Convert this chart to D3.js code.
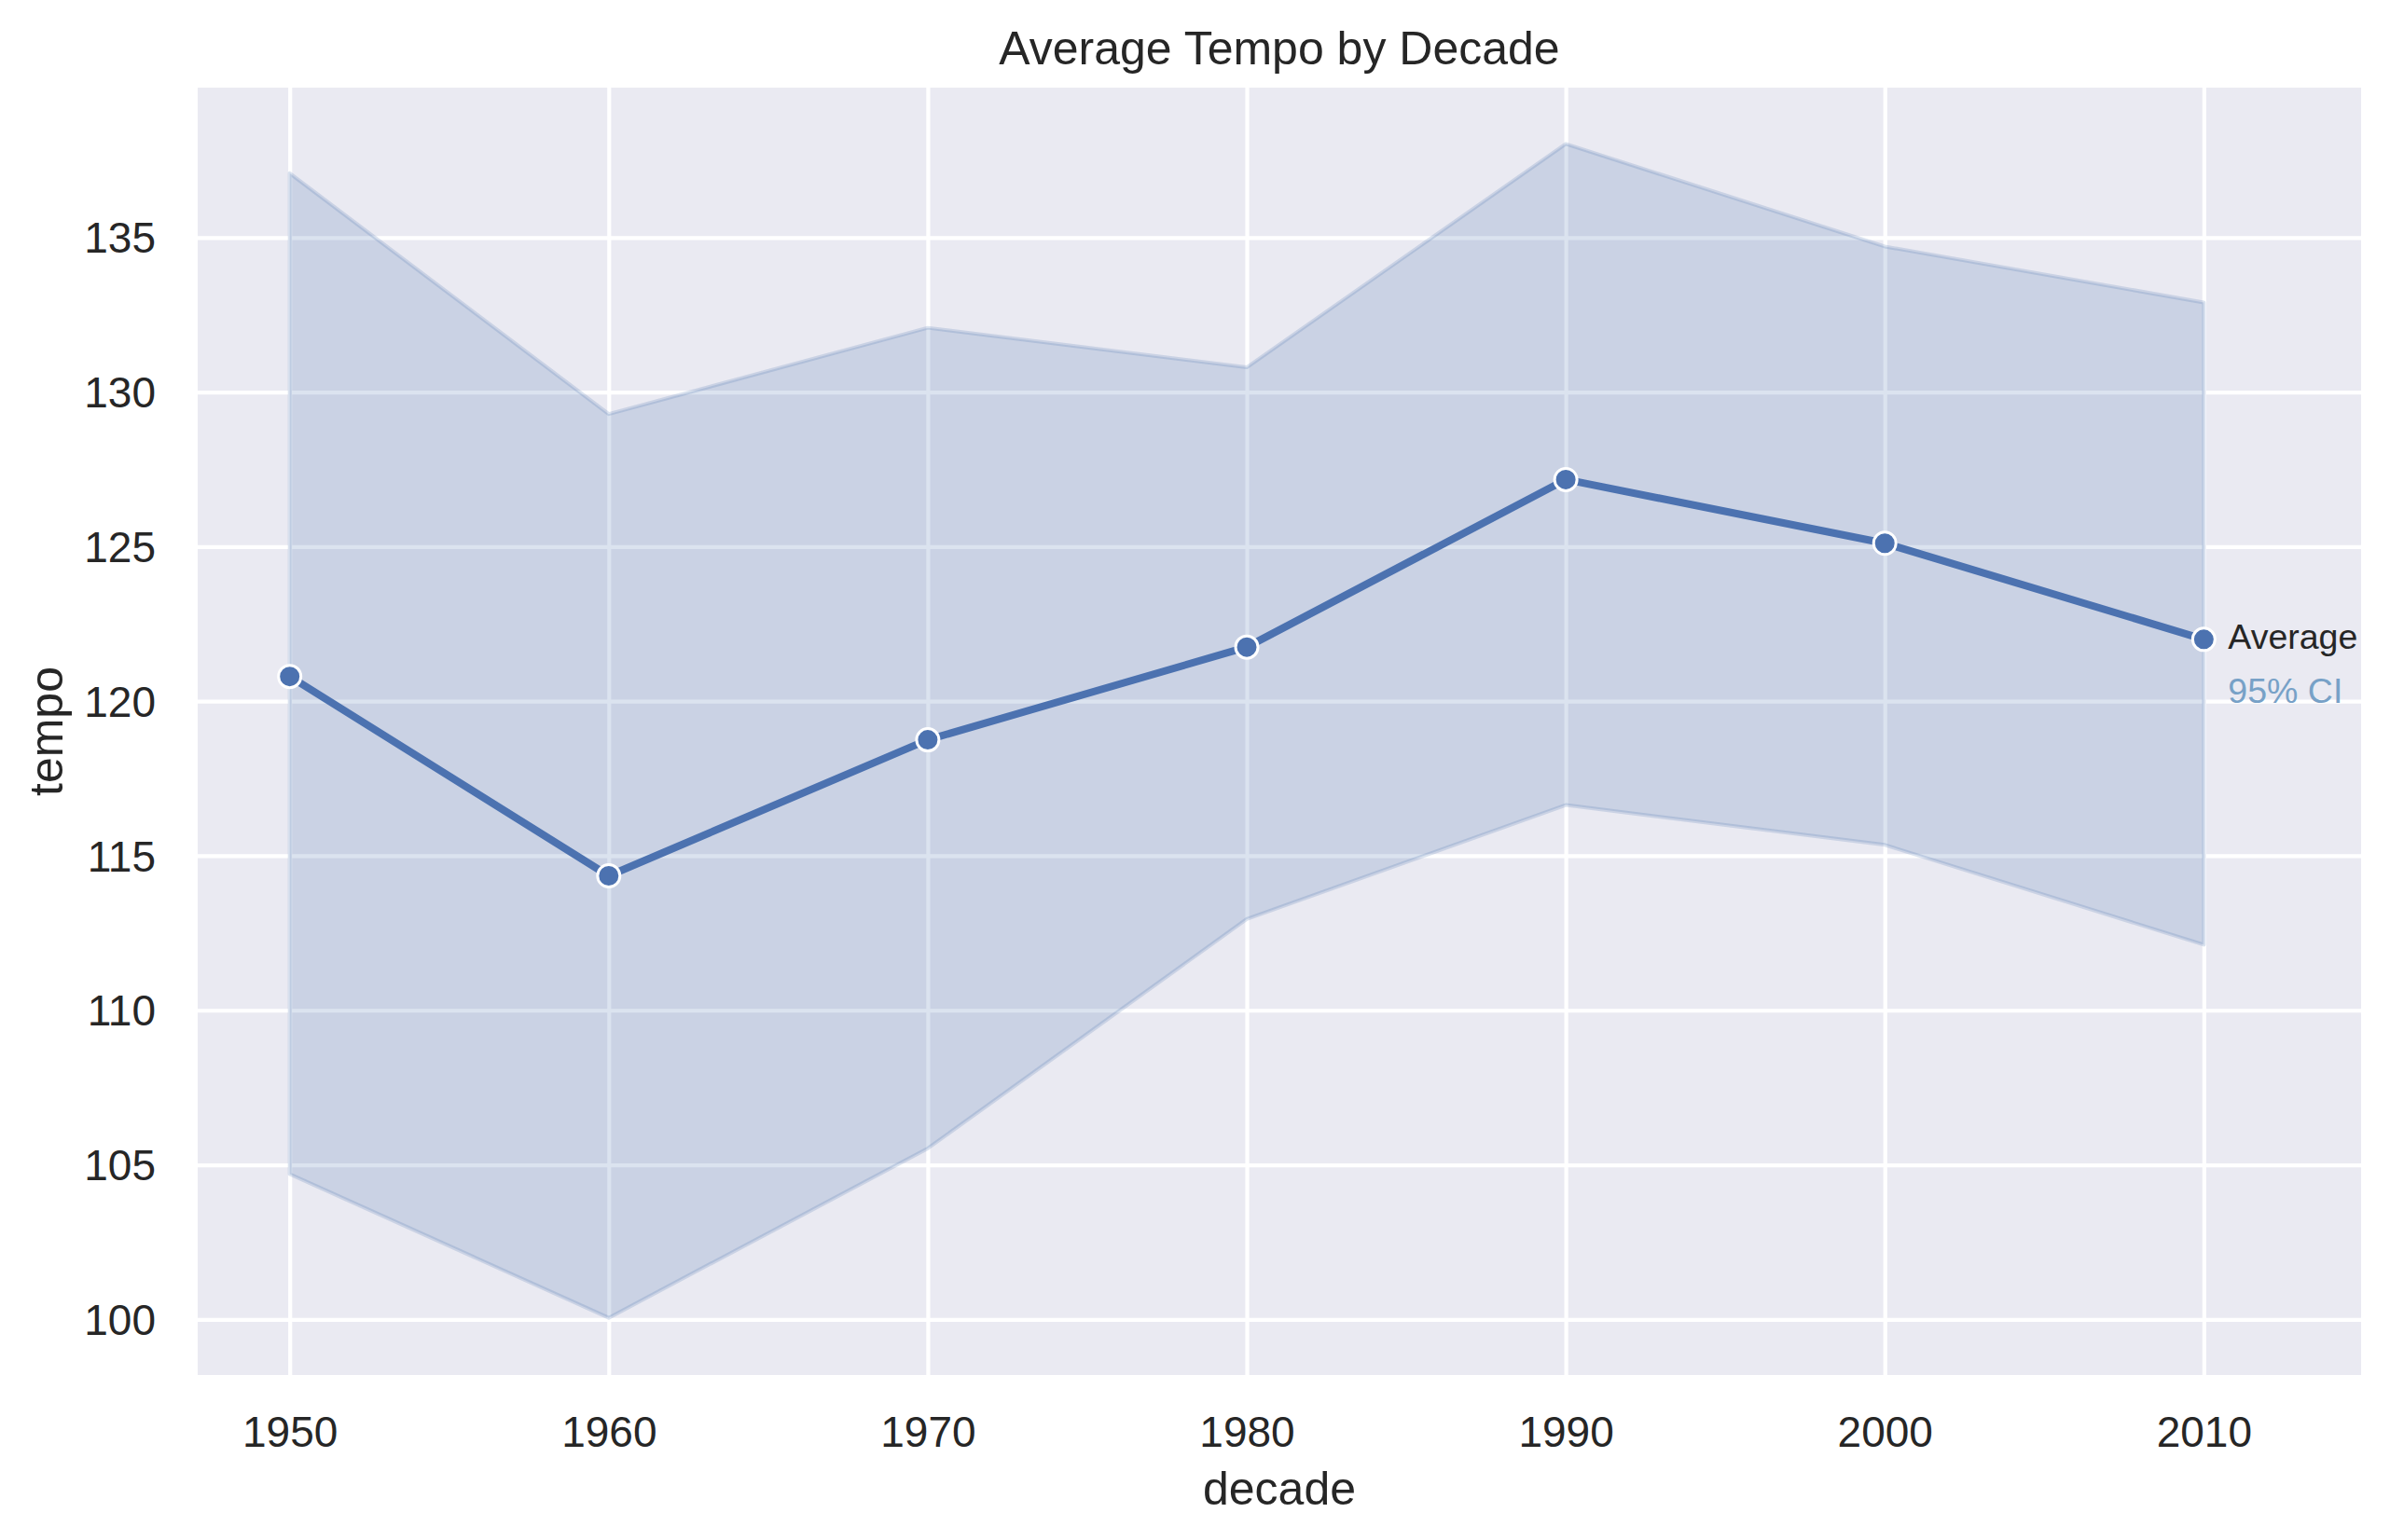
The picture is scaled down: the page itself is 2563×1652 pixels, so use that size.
<!DOCTYPE html>
<html>
<head>
<meta charset="utf-8">
<style>
body { margin: 0; background: #fff; }
svg text { font-family: "Liberation Sans", Arial, sans-serif; fill: #262626; }
.grid line { stroke: #fff; stroke-width: 4.2px; }
.grid .domain, .axis .domain, .axis line { display: none; }
.axis text { font-size: 46px; }
</style>
</head>
<body>
<svg id="chart" width="2563" height="1652"></svg>
<script src="https://d3js.org/d3.v7.min.js"></script>
<script>
// values
var decades = [1950, 1960, 1970, 1980, 1990, 2000, 2010];
var avgTempo = [120.8, 114.35, 118.75, 121.75, 127.17, 125.11, 122.0];
var ciLow = [104.7, 100.05, 105.53, 112.95, 116.64, 115.35, 112.12];
var ciHigh = [137.08, 129.29, 132.08, 130.80, 138.03, 134.71, 132.90];
var yTicks = [100, 105, 110, 115, 120, 125, 130, 135];

var svg = d3.select("#chart");
var margin = {top: 94, right: 31, bottom: 177, left: 212};
var width = +svg.attr("width") - margin.left - margin.right,
    height = +svg.attr("height") - margin.top - margin.bottom;
var blue = "#4c72b0";

var x = d3.scaleLinear().domain([1947.115, 2014.93]).range([0, width]);
var y = d3.scaleLinear().domain([98.2, 139.85]).range([height, 0]);

var g = svg.append("g").attr("transform", "translate(" + margin.left + "," + margin.top + ")");

g.append("rect")
    .attr("width", width)
    .attr("height", height)
    .attr("fill", "#eaeaf2");

// grid
g.append("g")
    .attr("class", "grid")
    .attr("transform", "translate(0," + height + ")")
    .call(d3.axisBottom(x).tickValues(decades).tickSize(-height).tickFormat(""));
g.append("g")
    .attr("class", "grid")
    .call(d3.axisLeft(y).tickValues(yTicks).tickSize(-width).tickFormat(""));

var data = decades.map(function(d, i) {
  return {decade: d, avg: avgTempo[i], lo: ciLow[i], hi: ciHigh[i]};
});

// confidence band
var band = d3.area()
    .x(function(d) { return x(d.decade); })
    .y0(function(d) { return y(d.lo); })
    .y1(function(d) { return y(d.hi); });
g.append("path")
    .datum(data)
    .attr("d", function(d) { return band(d) + "Z"; })
    .attr("fill", blue)
    .attr("fill-opacity", 0.2)
    .attr("stroke", blue)
    .attr("stroke-opacity", 0.2)
    .attr("stroke-width", 4)
    .attr("stroke-linejoin", "round");

// mean line
var line = d3.line()
    .x(function(d) { return x(d.decade); })
    .y(function(d) { return y(d.avg); });
g.append("path")
    .datum(data)
    .attr("d", line)
    .attr("fill", "none")
    .attr("stroke", blue)
    .attr("stroke-width", 8)
    .attr("stroke-linejoin", "round");

g.selectAll(".dot")
    .data(data)
  .enter().append("circle")
    .attr("class", "dot")
    .attr("cx", function(d) { return x(d.decade); })
    .attr("cy", function(d) { return y(d.avg); })
    .attr("r", 12)
    .attr("fill", blue)
    .attr("stroke", "#fff")
    .attr("stroke-width", 3);

// axes labels
var xAxis = g.append("g")
    .attr("class", "axis")
    .attr("transform", "translate(0," + height + ")")
    .call(d3.axisBottom(x).tickValues(decades).tickSize(0).tickFormat(d3.format("d")));
xAxis.selectAll("text").attr("y", 77).attr("dy", null);

var yAxis = g.append("g")
    .attr("class", "axis")
    .call(d3.axisLeft(y).tickValues(yTicks).tickSize(0).tickPadding(45));
yAxis.selectAll("text").attr("dy", "0.35em");

// end labels
var last = data[data.length - 1];
g.append("text")
    .attr("x", x(last.decade) + 26)
    .attr("y", y(last.avg) + 10)
    .style("font-size", "37.5px")
    .text("Average");
g.append("text")
    .attr("x", x(last.decade) + 26)
    .attr("y", y(last.avg) + 68)
    .style("font-size", "37.5px")
    .style("fill", "#77a1c7")
    .text("95% CI");

// titles
svg.append("text")
    .attr("x", margin.left + width / 2)
    .attr("y", 69)
    .attr("text-anchor", "middle")
    .style("font-size", "50px")
    .text("Average Tempo by Decade");
svg.append("text")
    .attr("x", margin.left + width / 2)
    .attr("y", 1614)
    .attr("text-anchor", "middle")
    .style("font-size", "50px")
    .text("decade");
svg.append("text")
    .attr("transform", "translate(67," + (margin.top + height / 2) + ") rotate(-90)")
    .attr("text-anchor", "middle")
    .style("font-size", "50px")
    .text("tempo");
</script>
</body>
</html>
